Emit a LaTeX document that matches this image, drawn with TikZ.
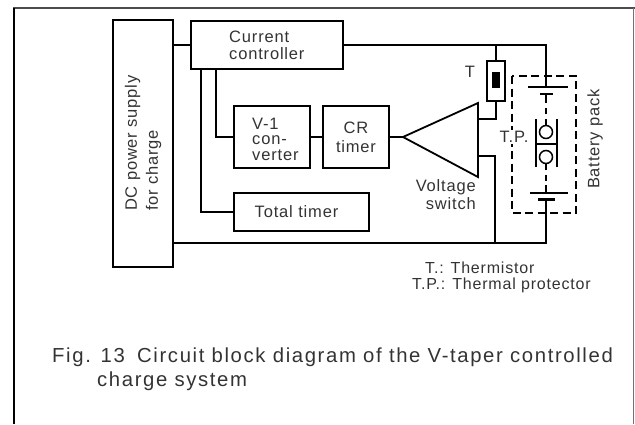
\documentclass[tikz,border=0pt]{standalone}
\usepackage{fontspec}
\setmainfont{Liberation Sans}[LetterSpace=5]
\newfontfamily\capfont{Liberation Sans}[LetterSpace=8]
\begin{document}
\begin{tikzpicture}[x=1pt,y=-1pt,
  lbl/.style={text=black!80, font=\fontsize{16.5}{17}\selectfont, inner sep=0},
  blk/.style={draw, line width=1.8pt, inner sep=0, minimum width=#1},
  wire/.style={line width=1.8pt},
  frameline/.style={line width=1.5pt}]
\useasboundingbox (0,0) rectangle (635,424);
% outer frame
\draw[frameline, black!70] (13,8) -- (635,8);
\draw[frameline] (14,8) -- (14,424);
\draw[line width=0.8pt, black!55] (633,8) -- (633,424);
% blocks
\node[blk=60pt, minimum height=247pt] (dc) at (143,143.5) {};
\node[lbl, rotate=90, anchor=west, align=left, font=\fontsize{16.5}{21}\selectfont] (dct) at (143,211) {DC power supply\\for charge};
\node[blk=152pt, minimum height=48pt] (cc) at (267,45) {};
\node[lbl, align=left, anchor=west] (cct) at (229,45) {Current\\controller};
\node[blk=76pt, minimum height=62pt] (v1) at (272,137) {};
\node[lbl, align=left, anchor=west, font=\fontsize{16.5}{15.5}\selectfont] (v1t) at (252,139) {V-1\\con-\\verter};
\node[blk=66pt, minimum height=62pt] (cr) at (356,137) {};
\node[lbl, align=center, font=\fontsize{16.5}{19}\selectfont] (crt) at (356,137) {CR\\timer};
\node[blk=135pt, minimum height=38pt] (tt) at (301.5,212) {};
\node[lbl] (ttt) at (296.5,212) {Total timer};
% thermistor
\node[draw, line width=1.8pt, minimum width=18pt, minimum height=40pt, inner sep=0] (th) at (496,81) {};
\node[fill=black, minimum width=8pt, minimum height=16pt, inner sep=0] (thc) at (496,80) {};
\node[lbl] (tl) at (470,72) {T};
% voltage switch triangle
\coordinate (ta) at (403,137);
\coordinate (tt1) at (478,103);
\coordinate (tt2) at (478,177);
\draw[wire, line join=miter] (ta) -- (tt1) -- (tt2) -- cycle;
\node[lbl, align=right, anchor=north east, font=\fontsize{16.5}{18}\selectfont] (vs) at (476,179) {Voltage\\switch};
% battery pack
\coordinate (bt) at (546,87);
\coordinate (bb) at (546,199);
\draw[line width=1.8pt, dash pattern=on 8pt off 4.5pt] (512,76) rectangle (576,213);
\draw[line width=1.8pt] (528,87) -- (568,87);
\draw[line width=2.2pt] (540,94) -- (553,94);
\draw[line width=1.5pt] (546,94) -- (546,103);
\draw[line width=1.5pt, dash pattern=on 6pt off 5pt] (546,108) -- (546,125.5);
\draw[line width=1.5pt] (546,132) circle (6.5pt);
\draw[line width=1.5pt] (546,157) circle (6.5pt);
\draw[line width=1.8pt] (536,119) -- (536,167);
\draw[line width=1.8pt] (557,119) -- (557,167);
\draw[line width=1.5pt] (536,144) -- (557,144);
\draw[line width=1.5pt, dash pattern=on 6pt off 5pt] (546,163.5) -- (546,181);
\draw[line width=1.5pt] (546,185) -- (546,193);
\draw[line width=1.5pt] (530,193) -- (568,193);
\draw[line width=3pt] (538,199) -- (555,199);
\node[lbl, fill=white, inner sep=1pt] (tp) at (514,137) {T.P.};
\node[lbl, rotate=90] (bp) at (595,139) {Battery pack};
% wiring
\draw[wire] (dc.east |- cc.west) -- (cc.west);
\draw[wire] (cc.east) -| (bt);
\draw[wire] (th.north |- cc.east) -- (th.north);
\draw[wire] (th.south) |- (478,119);
\draw[wire] (478,156) -| (495,243);
\draw[wire] (dc.east |- 0,243) -| (bb);
\draw[wire] (216,69) |- (v1.west);
\draw[wire] (201,69) |- (tt.west);
\draw[wire] (v1.east) -- (cr.west);
\draw[wire] (cr.east) -- (ta);
% notes
\node[lbl, anchor=base west, font=\fontsize{16}{16}\selectfont] (n1) at (425,273) {T.: Thermistor};
\node[lbl, anchor=base west, font=\fontsize{16}{16}\selectfont] (n2) at (412,289) {T.P.: Thermal protector};
% caption
\node[lbl, anchor=base west, font=\capfont\fontsize{20.3}{24}\selectfont] (c0) at (52,362) {Fig. 13};
\node[lbl, anchor=base west, font=\capfont\fontsize{20.3}{24}\selectfont] (c1) at (137,362) {Circuit block diagram of the V-taper controlled};
\node[lbl, anchor=base west, font=\capfont\fontsize{20.3}{24}\selectfont] (c2) at (97,386) {charge system};
\end{tikzpicture}
\end{document}
